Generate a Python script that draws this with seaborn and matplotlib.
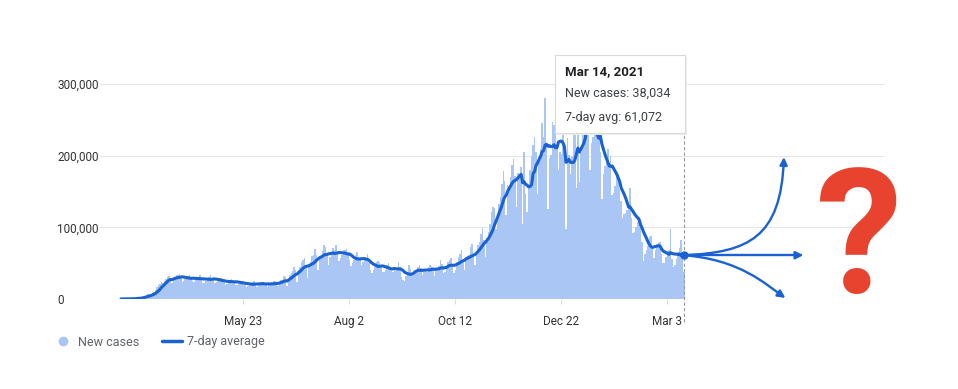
import numpy as np
import pandas as pd
import matplotlib
matplotlib.use("Agg")
import matplotlib.pyplot as plt
import seaborn as sns
from matplotlib.patches import FancyArrowPatch, Rectangle
from matplotlib.path import Path
from matplotlib.lines import Line2D

# ---------- DATA ----------
# daily new cases (thousands), one row per week Mon..Sun, Mar 2 2020 -> Mar 14 2021
week_cases = [
    [0.1, 0.1, 0.1, 0.2, 0.3, 0.4, 0.5],
    [0.3, 0.5, 0.7, 1.0, 1.5, 1.8, 1.6],
    [2.5, 3.2, 4.5, 5.5, 6.5, 6.0, 5.0],
    [8.5, 10, 12.5, 17, 19, 21, 24],
    [22, 25, 28, 31, 32, 28, 23],
    [28, 31, 33, 34, 35, 32, 24],
    [25, 28, 30, 32, 33, 30, 25],
    [24, 27, 29, 31, 33, 29, 23],
    [23, 25, 28, 31, 33, 30, 26],
    [22, 24, 25, 29, 29, 26, 23.5],
    [19, 21, 24, 27, 28, 25, 24],
    [19, 20, 21, 25, 25, 24, 20],
    [17, 18, 19, 22, 24, 25, 22],
    [17, 20, 20, 22, 24, 23, 21],
    [17, 19, 21, 23, 24.5, 25, 21],
    [18, 23, 26, 27, 32, 31, 18],
    [26, 34, 36, 39, 45, 41, 24],
    [40, 45, 51, 55, 57, 45, 29],
    [45, 52, 60, 62, 70, 62, 41],
    [56, 60, 67, 75, 72, 64, 47],
    [58, 63, 71, 69, 76, 65, 53],
    [57, 61, 68, 69, 70, 61, 55],
    [46, 50, 54, 62, 65, 59, 56],
    [48, 51, 54, 57, 63, 50, 41],
    [36, 40, 47, 51, 53, 51, 44],
    [37, 37, 41, 47, 50, 43, 39],
    [37, 41, 39, 44, 51, 44, 31],
    [27, 25, 32, 37, 47, 42, 35],
    [35, 39, 38, 44, 47, 43, 34],
    [37, 40, 38, 45, 48, 46, 40],
    [32, 43, 40, 46, 55, 49, 36],
    [38, 44, 51, 55, 57, 48, 36],
    [41, 51, 58, 63, 69, 55, 41],
    [54, 60, 62, 72, 77, 62, 47],
    [67, 75, 79, 91, 99, 83, 59],
    [85, 93, 104, 121, 128, 127, 98],
    [120, 133, 142, 161, 178, 164, 117],
    [159, 158, 170, 187, 196, 171, 128],
    [176, 175, 184, 105, 205, 147, 121],
    [158, 180, 200, 215, 226, 205, 146],
    [191, 210, 245, 226, 280, 213, 126],
    [197, 201, 247, 243, 250, 215, 180],
    [205, 202, 231, 205, 97, 224, 201],
    [175, 200, 232, 230, 155, 280, 163],
    [205, 230, 260, 280, 300, 260, 180],
    [218, 226, 232, 238, 248, 229, 205],
    [140, 175, 185, 195, 210, 190, 200],
    [145, 148, 157, 170, 175, 153, 137],
    [113, 118, 120, 124, 132, 155, 113],
    [92, 94, 100, 108, 114, 105, 80],
    [53, 63, 68, 74, 86, 88, 72],
    [57, 68, 73, 78, 80, 63, 50],
    [50, 58, 67, 68, 97, 56, 45],
    [48, 56, 66, 71, 82.5, 66, 38.034],
]
start_date = "2020-03-02"
tick_dates = ["2020-05-23", "2020-08-02", "2020-10-12", "2020-12-22", "2021-03-03"]
tick_labels = ["May 23", "Aug 2", "Oct 12", "Dec 22", "Mar 3"]
y_ticks = [0, 100000, 200000, 300000]
tip_title = "Mar 14, 2021"
tip_cases = "New cases: 38,034"
tip_avg = "7-day avg: 61,072"

cases = np.array([v for wk in week_cases for v in wk]) * 1000
dates = pd.date_range(start_date, periods=len(cases))
df = pd.DataFrame({"day": np.arange(len(cases)), "cases": cases})
df["avg"] = df["cases"].rolling(7, min_periods=1).mean()
tick_pos = [(pd.Timestamp(d) - dates[0]).days for d in tick_dates]

# ---------- STYLE ----------
sns.set_style("white")
plt.rcParams["font.family"] = ["Roboto", "DejaVu Sans"]

BAR = "#a9c6f5"
LINE = "#1a62d2"

fig = plt.figure(figsize=(9.58, 3.89), dpi=100)
ax = fig.add_axes([57 / 958, 90 / 389, 828 / 958, 259 / 389])

ax.bar(df["day"], df["cases"], width=1.0, color=BAR, linewidth=0, zorder=2)
sns.lineplot(data=df, x="day", y="avg", color=LINE, lw=2.2, ax=ax, zorder=3)

x_end = df["day"].iloc[-1]
y_end = df["avg"].iloc[-1]
ax.plot([x_end], [y_end], "o", color=LINE, ms=5, zorder=5)

ax.set_xlim(-42.9, 511.7)
ax.set_ylim(0, 361400)
ax.set_xlabel("")
ax.set_ylabel("")
for s in ax.spines.values():
    s.set_visible(False)

ax.set_axisbelow(True)
ax.yaxis.grid(True, color="#e6e6e6", lw=0.8)
ax.set_yticks(y_ticks, [f"{v:,}" for v in y_ticks])
ax.tick_params(axis="y", length=0, pad=0, labelsize=8.5, labelcolor="#333333")
for lab in ax.get_yticklabels():
    lab.set_horizontalalignment("left")
    lab.set_bbox(dict(facecolor="white", edgecolor="none", pad=1))

ax.set_xticks(tick_pos, tick_labels)
ax.tick_params(axis="x", length=3.5, color="#dddddd", pad=8, labelsize=8.5,
               labelcolor="#333333", bottom=True)

# dashed hover line
ax.axvline(x_end, ymin=-0.089, ymax=0.77, color="#9a9a9a", ls=(0, (3, 2)),
           lw=0.8, clip_on=False, zorder=4)

# projection arrows
arrow_kw = dict(arrowstyle="-|>", mutation_scale=11, lw=1.7, color=LINE,
                zorder=6, clip_on=False)
up = Path([(x_end, y_end), (420, 65000), (442, 85000), (444, 198000)],
          [Path.MOVETO, Path.CURVE4, Path.CURVE4, Path.CURVE4])
mid = Path([(x_end, y_end), (457, y_end)], [Path.MOVETO, Path.LINETO])
down = Path([(x_end, y_end), (415, 55000), (432, 20000), (445, 1500)],
            [Path.MOVETO, Path.CURVE4, Path.CURVE4, Path.CURVE4])
for p in (up, mid, down):
    ax.add_patch(FancyArrowPatch(path=p, **arrow_kw))

# tooltip box
fig.add_artist(Rectangle((557 / 958, 1 - 135 / 389), 130 / 958, 78 / 389,
                         transform=fig.transFigure, fc="#eeeeee", ec="none", zorder=9))
fig.add_artist(Rectangle((555 / 958, 1 - 133 / 389), 130 / 958, 78 / 389,
                         transform=fig.transFigure, fc="white", ec="#dadada",
                         lw=0.8, zorder=10))
fig.text(565 / 958, 1 - 72 / 389, tip_title, weight="bold", size=9.5,
         va="center", color="#202124", zorder=11)
fig.text(565 / 958, 1 - 93 / 389, tip_cases, size=9, va="center",
         color="#3c4043", zorder=11)
fig.text(565 / 958, 1 - 118 / 389, tip_avg, size=9, va="center",
         color="#3c4043", zorder=11)

# question mark
fig.text(859 / 958, 1 - 293 / 389, "?", color="#e8432f", fontsize=125,
         weight="bold", ha="center", va="baseline")

# legend
handles = [Line2D([], [], marker="o", ls="", color=BAR, ms=6),
           Line2D([], [], color=LINE, lw=2.5)]
fig.legend(handles, ["New cases", "7-day average"], loc="center left",
           bbox_to_anchor=(53 / 958, 1 - 342 / 389), ncol=2, frameon=False,
           fontsize=9, labelcolor="#5f6368", handlelength=1.6,
           handletextpad=0.4, columnspacing=1.8, borderpad=0, borderaxespad=0)

fig.savefig("out.png", dpi=100)
